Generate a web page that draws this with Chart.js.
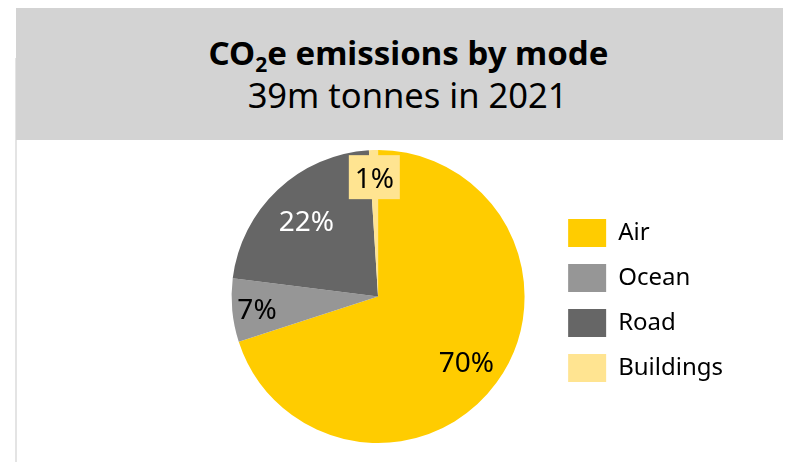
<!DOCTYPE html>
<html>
<head>
<meta charset="utf-8">
<script src="https://cdn.jsdelivr.net/npm/chart.js@4"></script>
<style>
  body { margin: 0; width: 788px; height: 462px; background: #ffffff; position: relative; overflow: hidden; font-family: 'Noto Sans', sans-serif; }
  #rule { position: absolute; left: 15px; top: 58px; width: 2px; height: 404px; background: #e4e4e4; }
  #header { position: absolute; left: 16px; top: 8px; width: 767px; height: 132px; background: #d3d3d3; text-align: center; color: #000; }
  #title { position: absolute; left: 18px; right: 0; top: 25px; font-size: 33px; font-weight: bold; line-height: 40px; }
  #title sub { font-size: 21px; vertical-align: -7px; line-height: 0; }
  #subtitle { position: absolute; left: 16px; right: 0; top: 67px; font-size: 34.5px; line-height: 40px; }
  #wrap { position: absolute; left: 17px; top: 141px; width: 771px; height: 321px; }
</style>
</head>
<body>
<div id="rule"></div>
<div id="header">
  <div id="title">CO<sub>2</sub>e emissions by mode</div>
  <div id="subtitle">39m tonnes in 2021</div>
</div>
<div id="wrap"><canvas id="chart"></canvas></div>
<script>
const labels = ['Air', 'Ocean', 'Road', 'Buildings'];
const shares = [70, 7, 22, 1];
const valueLabels = ['70%', '7%', '22%', '1%'];

const sliceColors = ['#ffcc00', '#969696', '#666666', '#ffe491'];
const labelColors = ['#000000', '#000000', '#ffffff', '#000000'];
const labelRadius = [0.745, 0.83, 0.715, 0.815];

// draws the percentage text inside each slice
const sliceLabels = {
  id: 'sliceLabels',
  afterDatasetsDraw(chart) {
    const ctx = chart.ctx;
    const arcs = chart.getDatasetMeta(0).data;
    ctx.save();
    ctx.font = '28px "Noto Sans"';
    ctx.textAlign = 'center';
    ctx.textBaseline = 'middle';
    for (var i = 0; i < arcs.length; i++) {
      const a = arcs[i];
      const mid = (a.startAngle + a.endAngle) / 2;
      const r = a.outerRadius * labelRadius[i];
      const x = a.x + Math.cos(mid) * r;
      const y = a.y + Math.sin(mid) * r;
      if (i == 3) {
        ctx.fillStyle = sliceColors[3];
        ctx.fillRect(x - 25.5, y - 22, 51, 44);
      }
      ctx.fillStyle = labelColors[i];
      ctx.fillText(valueLabels[i], x, y + 3);
    }
    ctx.restore();
  }
};

const chart = new Chart(document.getElementById('chart'), {
  type: 'pie',
  data: {
    labels: labels,
    datasets: [{
      data: shares,
      backgroundColor: sliceColors,
      borderWidth: 0
    }]
  },
  options: {
    responsive: true,
    maintainAspectRatio: false,
    animation: false,
    layout: { padding: { left: 188, right: 55, top: 9, bottom: 19 } },
    plugins: {
      tooltip: { enabled: false },
      legend: {
        position: 'right',
        title: { display: true, text: '', padding: 0, font: { size: 8, lineHeight: 1 } },
        labels: {
          boxWidth: 38,
          boxHeight: 28,
          padding: 17,
          color: '#000000',
          font: { family: 'Noto Sans', size: 24 }
        }
      }
    }
  },
  plugins: [sliceLabels]
});
</script>
</body>
</html>
